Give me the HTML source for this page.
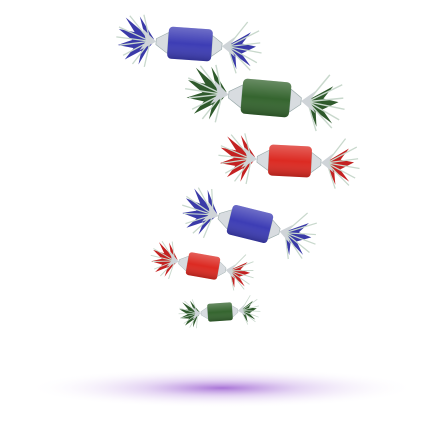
<!DOCTYPE html>
<html><head><meta charset="utf-8"><style>
html,body{margin:0;padding:0;background:#fff;}
svg{display:block;}
</style></head><body>
<svg width="437" height="437" viewBox="0 0 437 437">
<defs>
<radialGradient id="shadow" cx="50%" cy="50%" r="50%">
<stop offset="0%" stop-color="#9a5cd0" stop-opacity="0.85"/>
<stop offset="40%" stop-color="#c6a3e6" stop-opacity="0.45"/>
<stop offset="100%" stop-color="#ffffff" stop-opacity="0"/>
</radialGradient>
<linearGradient id="shine" x1="0" y1="0" x2="0" y2="1">
<stop offset="0" stop-color="#fff" stop-opacity="0.25"/>
<stop offset="0.5" stop-color="#fff" stop-opacity="0"/>
<stop offset="1" stop-color="#000" stop-opacity="0.2"/>
</linearGradient>
<g id="silver">
<path d="M-22,-10 L-34,-3 L-34,3 L-22,11 Z" fill="#d8dce0" stroke="#9aa" stroke-width="0.6"/>
<path d="M22,-10 L32,-3 L32,3 L22,11 Z" fill="#d8dce0" stroke="#9aa" stroke-width="0.6"/>
<path d="M-34,0 L-48,-12 L-44,0 L-50,10 Z" fill="#cfd4d8"/>
<path d="M32,0 L44,-10 L40,0 L46,10 Z" fill="#cfd4d8"/>
</g>
<g id="fringe-lines" stroke="#c8d8cc" stroke-width="1.3">
<line x1="-40" y1="0" x2="-72" y2="-12"/><line x1="-40" y1="0" x2="-70" y2="6"/>
<line x1="-40" y1="0" x2="-62" y2="-24"/><line x1="-40" y1="0" x2="-56" y2="24"/>
<line x1="-40" y1="0" x2="-74" y2="-2"/><line x1="-40" y1="0" x2="-66" y2="16"/>
<line x1="-40" y1="0" x2="-48" y2="-26"/><line x1="-40" y1="0" x2="-44" y2="26"/>
<line x1="38" y1="0" x2="68" y2="-18"/><line x1="38" y1="0" x2="72" y2="4"/>
<line x1="38" y1="0" x2="62" y2="22"/><line x1="38" y1="0" x2="68" y2="14"/>
<line x1="38" y1="0" x2="56" y2="-26"/><line x1="38" y1="0" x2="48" y2="26"/>
<line x1="38" y1="0" x2="70" y2="-6"/>
</g>
<g id="fringe-shape">
<path d="M-36,0 L-66,-22 L-56,-8 L-72,-10 L-58,0 L-72,6 L-56,8 L-64,20 L-48,10 L-50,24 L-42,8 Z"/>
<path d="M-36,-2 L-52,-24 L-46,-6 Z"/>
<path d="M36,0 L60,-16 L52,-4 L66,-2 L52,6 L62,18 L46,8 L48,22 L40,6 Z"/>
</g>
</defs>

<ellipse cx="222" cy="388" rx="195" ry="20" fill="url(#shadow)"/>

<g transform="translate(190,44) rotate(4)">
<use href="#fringe-shape" fill="#3a3aa8"/>
<use href="#fringe-lines"/>
<use href="#silver"/>
<rect x="-22" y="-16" width="44" height="32" rx="4" fill="#3d3db5"/>
<rect x="-22" y="-16" width="44" height="32" rx="4" fill="url(#shine)"/>
</g>

<g transform="translate(266,98) rotate(5) scale(1.1)">
<use href="#fringe-shape" fill="#2f5a2c"/>
<use href="#fringe-lines"/>
<use href="#silver"/>
<rect x="-22" y="-16" width="44" height="32" rx="4" fill="#35652f"/>
<rect x="-22" y="-16" width="44" height="32" rx="4" fill="url(#shine)"/>
</g>

<g transform="translate(290,161) rotate(3) scale(0.97)">
<use href="#fringe-shape" fill="#c42222"/>
<use href="#fringe-lines"/>
<use href="#silver"/>
<rect x="-22" y="-16" width="44" height="32" rx="4" fill="#dc2a22"/>
<rect x="-22" y="-16" width="44" height="32" rx="4" fill="url(#shine)"/>
</g>

<g transform="translate(250,224) rotate(14) scale(0.95)">
<use href="#fringe-shape" fill="#3a3aa8"/>
<use href="#fringe-lines"/>
<use href="#silver"/>
<rect x="-22" y="-16" width="44" height="32" rx="4" fill="#3d3db5"/>
<rect x="-22" y="-16" width="44" height="32" rx="4" fill="url(#shine)"/>
</g>

<g transform="translate(203,266) rotate(10) scale(0.72)">
<use href="#fringe-shape" fill="#c42222"/>
<use href="#fringe-lines"/>
<use href="#silver"/>
<rect x="-22" y="-16" width="44" height="32" rx="4" fill="#dc2a22"/>
<rect x="-22" y="-16" width="44" height="32" rx="4" fill="url(#shine)"/>
</g>

<g transform="translate(220,312) rotate(-4) scale(0.56)">
<use href="#fringe-shape" fill="#2f5a2c"/>
<use href="#fringe-lines"/>
<use href="#silver"/>
<rect x="-22" y="-16" width="44" height="32" rx="4" fill="#35652f"/>
<rect x="-22" y="-16" width="44" height="32" rx="4" fill="url(#shine)"/>
</g>
</svg>
</body></html>
